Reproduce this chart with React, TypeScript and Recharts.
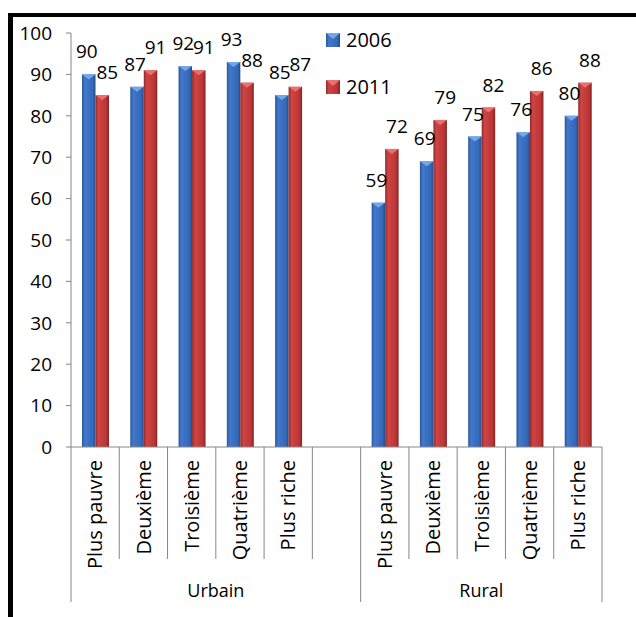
import React from 'react';
import { BarChart, Bar, XAxis, YAxis, Legend, LabelList } from 'recharts';

const quintiles = ['Plus pauvre', 'Deuxième', 'Troisième', 'Quatrième', 'Plus riche'];
const groups = ['Urbain', 'Rural'];
const urbain2006 = [90, 87, 92, 93, 85];
const urbain2011 = [85, 91, 91, 88, 87];
const rural2006 = [59, 69, 75, 76, 80];
const rural2011 = [72, 79, 82, 86, 88];
const yTicks = [0, 10, 20, 30, 40, 50, 60, 70, 80, 90, 100];
const seriesNames = ['2006', '2011'];

type Row = { cat: string; group: string; v2006: number | null; v2011: number | null };

const rows: Row[] = [
  ...quintiles.map((q, i) => ({ cat: q, group: groups[0], v2006: urbain2006[i], v2011: urbain2011[i] })),
  { cat: '', group: groups[0], v2006: null, v2011: null },
  ...quintiles.map((q, i) => ({ cat: q, group: groups[1], v2006: rural2006[i], v2011: rural2011[i] })),
];

const FONT = "'Open Sans', sans-serif";
const AXIS = '#868686';

const palette: Record<string, { id: string; stops: string[]; cap: string }> = {
  v2006: { id: 'gBlue', stops: ['#2a5799', '#4279cc', '#3a6fc2', '#356ab9', '#244d8c'], cap: '#74a6ea' },
  v2011: { id: 'gRed', stops: ['#8e2a2a', '#cf4545', '#c63c3c', '#bb3737', '#842525'], cap: '#e87070' },
};

function CylBar(props: any) {
  const { x, y, width, height, dataKey } = props;
  if (height == null || height <= 0) return null;
  const p = palette[dataKey];
  return (
    <g>
      <rect x={x} y={y} width={width} height={height} fill={`url(#${p.id})`} />
      <polygon points={`${x},${y} ${x + width},${y} ${x + width / 2},${y + 5}`} fill={p.cap} />
    </g>
  );
}

const makeLabel = (dx: number) => (props: any) => {
  const { x, y, width, value } = props;
  if (value == null) return null;
  return (
    <text x={x + width / 2 + dx} y={y - 16} textAnchor="middle" fontSize={19} fontFamily={FONT} fill="#000">
      {value}
    </text>
  );
};

function CatTick(props: any) {
  const { x, y, payload, index } = props;
  const off = payload.offset || 0;
  const row = rows[index];
  if (!row) return null;
  const firstOfGroup = index === 0 || rows[index - 1].group !== row.group;
  const isLast = index === rows.length - 1;
  const count = rows.filter((r) => r.group === row.group).length;
  const x0 = x - off;
  return (
    <g>
      <line x1={x0} y1={y} x2={x0} y2={y + (firstOfGroup ? 155 : 112)} stroke={AXIS} strokeWidth={1} />
      {isLast && <line x1={x + off} y1={y} x2={x + off} y2={y + 155} stroke={AXIS} strokeWidth={1} />}
      {row.cat && (
        <text
          x={x}
          y={y + 13}
          transform={`rotate(-90, ${x}, ${y + 13})`}
          textAnchor="end"
          dy="0.36em"
          fontSize={20}
          fontFamily={FONT}
          fill="#000"
        >
          {row.cat}
        </text>
      )}
      {firstOfGroup && (
        <text x={x0 + count * off} y={y + 150} textAnchor="middle" fontSize={18} fontFamily={FONT} fill="#000">
          {row.group}
        </text>
      )}
    </g>
  );
}

function LegendContent(props: any) {
  const { payload } = props;
  return (
    <div style={{ fontFamily: FONT }}>
      {(payload || []).map((e: any, i: number) => {
        const p = palette[e.dataKey];
        return (
          <div key={i} style={{ display: 'flex', alignItems: 'center', height: 22, marginBottom: 25 }}>
            <svg width={14} height={14} style={{ marginRight: 6 }}>
              <rect x={0} y={0} width={14} height={14} fill={`url(#${p.id})`} />
              <polygon points="0,0 14,0 7,6" fill={p.cap} />
            </svg>
            <span style={{ fontSize: 20, lineHeight: '22px', color: '#000' }}>{e.value}</span>
          </div>
        );
      })}
    </div>
  );
}

export default function App() {
  return (
    <div
      style={{
        position: 'fixed',
        left: 8,
        top: 13,
        width: 628,
        height: 604,
        borderTop: '4px solid #000',
        borderLeft: '5px solid #000',
        boxSizing: 'border-box',
        background: '#fff',
      }}
    >
      <BarChart
        width={623}
        height={600}
        data={rows}
        margin={{ top: 16, right: 34, bottom: 0, left: 0 }}
        barGap={0}
        barSize={13.5}
      >
        <defs>
          {Object.values(palette).map((p) => (
            <linearGradient key={p.id} id={p.id} x1="0" y1="0" x2="1" y2="0">
              <stop offset="0%" stopColor={p.stops[0]} />
              <stop offset="22%" stopColor={p.stops[1]} />
              <stop offset="50%" stopColor={p.stops[2]} />
              <stop offset="78%" stopColor={p.stops[3]} />
              <stop offset="100%" stopColor={p.stops[4]} />
            </linearGradient>
          ))}
        </defs>
        <XAxis
          dataKey="cat"
          height={170}
          interval={0}
          tickLine={false}
          tickSize={0}
          tickMargin={0}
          axisLine={{ stroke: AXIS }}
          tick={<CatTick />}
        />
        <YAxis
          width={58}
          domain={[0, 100]}
          ticks={yTicks}
          interval={0}
          axisLine={{ stroke: AXIS }}
          tickLine={{ stroke: AXIS }}
          tickSize={5}
          tickMargin={14}
          tick={{ fontSize: 19, fontFamily: FONT, fill: '#000' }}
        />
        <Legend
          layout="horizontal"
          verticalAlign="middle"
          align="center"
          content={<LegendContent />}
          wrapperStyle={{ position: 'absolute', left: 313, top: 12, width: 120, height: 100 }}
        />
        <Bar dataKey="v2006" name={seriesNames[0]} fill="#3b70c2" shape={<CylBar />} isAnimationActive={false}>
          <LabelList dataKey="v2006" content={makeLabel(-2)} />
        </Bar>
        <Bar dataKey="v2011" name={seriesNames[1]} fill="#c13c3c" shape={<CylBar />} isAnimationActive={false}>
          <LabelList dataKey="v2011" content={makeLabel(5)} />
        </Bar>
      </BarChart>
    </div>
  );
}
